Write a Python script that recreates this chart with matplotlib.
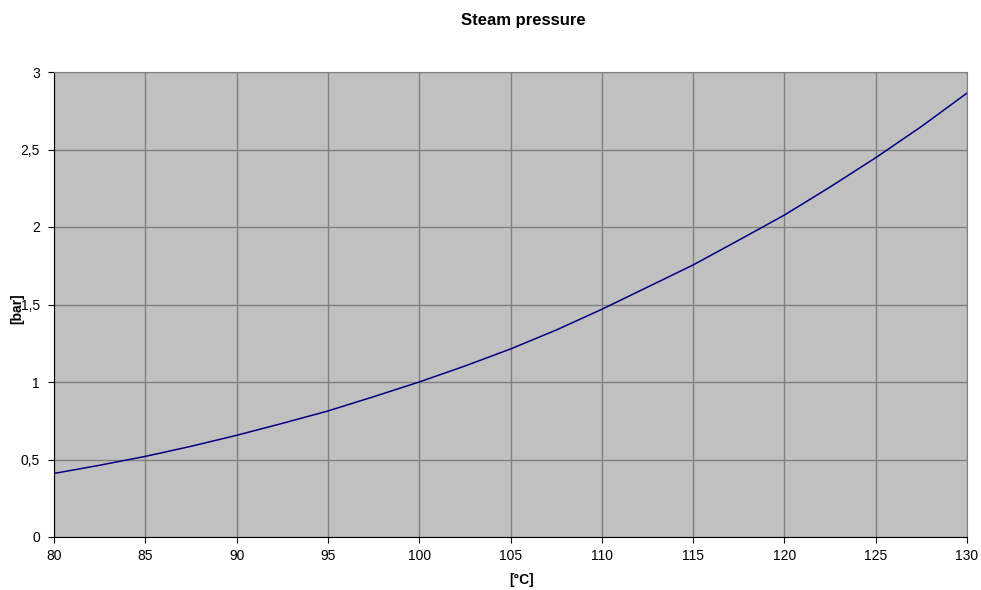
import numpy as np
import matplotlib.pyplot as plt
from matplotlib.ticker import FuncFormatter

plt.rcParams['font.family'] = ['Liberation Sans', 'DejaVu Sans']

# Data
temp_c = [80, 82.5, 85, 87.5, 90, 92.5, 95, 97.5, 100, 102.5, 105,
          107.5, 110, 112.5, 115, 117.5, 120, 122.5, 125, 127.5, 130]
pressure_bar = [0.41, 0.463, 0.52, 0.585, 0.656, 0.733, 0.813, 0.905, 1.0, 1.103, 1.213,
                1.335, 1.469, 1.612, 1.755, 1.915, 2.077, 2.258, 2.447, 2.648, 2.864]

W, H = 981, 590
fig = plt.figure(figsize=(W / 100, H / 100), dpi=100)
ax = fig.add_axes([54 / W, (H - 537) / H, (967 - 54) / W, (537 - 72) / H])
ax.set_facecolor('#c0c0c0')

ax.plot(temp_c, pressure_bar, color='#000080', linewidth=1.1)

ax.set_xlim(80, 130)
ax.set_ylim(0, 3)
ax.set_xticks(np.arange(80, 131, 5))
ax.set_yticks(np.arange(0, 3.01, 0.5))
ax.yaxis.set_major_formatter(FuncFormatter(lambda v, p: ('%g' % v).replace('.', ',')))
ax.grid(True, color='#808080', linewidth=1.0)
ax.set_axisbelow(True)

for s in ['top', 'right']:
    ax.spines[s].set_color('#808080')
ax.spines['left'].set_color('black')
ax.spines['bottom'].set_color('black')
ax.tick_params(axis='both', labelsize=10, length=4, color='black')
ax.tick_params(axis='x', pad=5)
ax.tick_params(axis='y', pad=6)

# titles placed in figure pixels to follow the reference
fig.text(523 / W, 1 - 20 / H, 'Steam pressure', fontsize=12, fontweight='bold',
         ha='center', va='center')
fig.text(522 / W, 1 - 580 / H, '[°C]', fontsize=10, fontweight='bold',
         ha='center', va='center')
fig.text(17 / W, 1 - 309 / H, '[bar]', fontsize=10, fontweight='bold',
         ha='center', va='center', rotation=90)

fig.savefig('out.png', dpi=100)
